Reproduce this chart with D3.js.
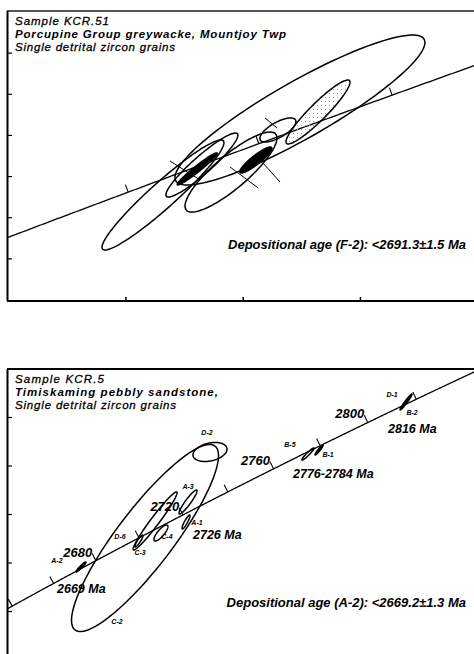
<!DOCTYPE html>
<html>
<head>
<meta charset="utf-8">
<script src="https://cdn.jsdelivr.net/npm/d3@7"></script>
<style>
body { margin: 0; background: #fff; }
svg { display: block; }
text { font-family: "Liberation Sans", Arial, sans-serif; font-style: italic; fill: #000; }
</style>
</head>
<body>
<svg width="474" height="654"></svg>
<script>
// U-Pb decay constants, per Ma
var L238 = 1.55125e-4, L235 = 9.8485e-4;

// ---- panel 1: KCR.51 ----
var p1Title = ['Sample KCR.51', 'Porcupine Group greywacke, Mountjoy Twp', 'Single detrital zircon grains'];
var p1Note = 'Depositional age (F-2): <2691.3\u00b11.5 Ma';
var p1XTicks = [13.0, 13.25, 13.5];
var p1YTicks = [0.509, 0.513, 0.517, 0.521, 0.525, 0.529];
var p1AgeTicks = [2680, 2700, 2720];
// 207Pb/235U, 206Pb/238U, 1 sigma each, rho, fill
var p1X   = [13.371, 13.4095, 13.324, 13.162, 13.152, 13.079, 13.224, 13.277];
var p1Y   = [0.52347, 0.52328, 0.52153, 0.51812, 0.51774, 0.51521, 0.51744, 0.51861];
var p1Sx  = [0.2665, 0.0682, 0.0384, 0.0767, 0.0426, 0.130, 0.098, 0.0341];
var p1Sy  = [0.00729, 0.00311, 0.00117, 0.00311, 0.00156, 0.00535, 0.00389, 0.00126];
var p1Rho = [0.90, 0.93, 0.70, 0.93, 0.97, 0.95, 0.85, 0.90];
var p1Fill = ['none', 'dots', 'none', 'none', 'black', 'none', 'none', 'black'];
// short cross strokes [x1, y1, x2, y2]
var p1Cross = [
  [13.094, 0.51851, 13.158, 0.51667],
  [13.222, 0.51793, 13.282, 0.51589],
  [13.2922, 0.51832, 13.3285, 0.51647],
  [13.2965, 0.52270, 13.3221, 0.52172]
];

// ---- panel 2: KCR.5 ----
var p2Title = ['Sample KCR.5', 'Timiskaming pebbly sandstone,', 'Single detrital zircon grains'];
var p2Note = 'Depositional age (A-2): <2669.2\u00b11.3 Ma';
var p2YTicks = [0.505, 0.515, 0.525, 0.535, 0.545];
var p2AgeTicks = [2640, 2660, 2680, 2700, 2720, 2740, 2760, 2780, 2800, 2820];
var p2AgeLabels = [2680, 2720, 2760, 2800];
var p2Names = ['C-2', 'D-2', 'C-3', 'A-3', 'C-4', 'A-1', 'D-6', 'A-2', 'B-5', 'B-1', 'D-1'];
var p2X   = [13.322, 13.742, 13.387, 13.600, 13.425, 13.587, 13.283, 12.908, 14.375, 14.447, 15.009];
var p2Y   = [0.52015, 0.53789, 0.52366, 0.52758, 0.52119, 0.52345, 0.51954, 0.51418, 0.53747, 0.5383, 0.54820];
var p2Sx  = [0.475, 0.110, 0.142, 0.0582, 0.0452, 0.0259, 0.026, 0.0323, 0.0388, 0.0259, 0.0388];
var p2Sy  = [0.01928, 0.00196, 0.00598, 0.00247, 0.00165, 0.00144, 0.00124, 0.00103, 0.00124, 0.00103, 0.00165];
var p2Rho = [0.88, 0.30, 0.97, 0.93, 0.80, 0.90, 0.90, 0.95, 0.95, 0.95, 0.97];
var p2Fill = ['none', 'none', 'none', 'none', 'none', 'none', 'none', 'black', 'none', 'black', 'black'];
var p2AgeNotes = ['2669 Ma', '2726 Ma', '2776-2784 Ma', '2816 Ma'];

var svg = d3.select('svg');
var defs = svg.append('defs');
var pat = defs.append('pattern').attr('id', 'dots').attr('width', 4).attr('height', 4)
  .attr('patternUnits', 'userSpaceOnUse');
pat.append('rect').attr('x', 1).attr('y', 1).attr('width', 1).attr('height', 1).attr('fill', '#999');

function r7(t) { return Math.exp(L235 * t) - 1; }
function r6(t) { return Math.exp(L238 * t) - 1; }

function panel(o) {
  var g = svg.append('g');
  var x = d3.scaleLinear().domain(o.xDomain).range([7, o.right]);
  var y = d3.scaleLinear().domain(o.yDomain).range([o.bottom, o.top]);

  defs.append('clipPath').attr('id', o.id).append('rect')
    .attr('x', 7).attr('y', o.top).attr('width', 474).attr('height', o.bottom - o.top);
  var plot = g.append('g').attr('clip-path', 'url(#' + o.id + ')');

  // concordia
  var t0 = Math.log(1 + o.xDomain[0]) / L235, t1 = Math.log(1 + o.xDomain[1]) / L235;
  var ts = d3.range(Math.floor(t0) - 2, Math.ceil(t1) + 2, 0.5);
  plot.append('path')
    .attr('d', d3.line().x(function(t) { return x(r7(t)); }).y(function(t) { return y(r6(t)); })(ts))
    .attr('fill', 'none').attr('stroke', '#000').attr('stroke-width', 1.3);

  function tickGeom(t, len) {
    var px = x(r7(t)), py = y(r6(t));
    var dx = x(r7(t + 1)) - px, dy = y(r6(t + 1)) - py;
    var n = Math.sqrt(dx * dx + dy * dy);
    return { x: px, y: py, ex: px + dy / n * len, ey: py - dx / n * len };
  }
  plot.selectAll('.ctick').data(o.ageTicks).enter().append('line')
    .attr('class', 'ctick')
    .each(function(t) {
      var k = tickGeom(t, 8);
      d3.select(this).attr('x1', k.x).attr('y1', k.y).attr('x2', k.ex).attr('y2', k.ey);
    })
    .attr('stroke', '#000').attr('stroke-width', 1.1);

  // ellipses
  var ells = d3.range(o.ex.length);
  var aa = d3.range(0, 2 * Math.PI + 0.01, Math.PI / 60);
  plot.selectAll('.ell').data(ells).enter().append('path')
    .attr('class', 'ell')
    .attr('d', function(i) {
      var s = Math.sqrt(1 - o.rho[i] * o.rho[i]);
      return d3.line()
        .x(function(a) { return x(o.ex[i] + o.sx[i] * Math.cos(a)); })
        .y(function(a) { return y(o.ey[i] + o.sy[i] * (o.rho[i] * Math.cos(a) + s * Math.sin(a))); })(aa) + 'Z';
    })
    .attr('fill', function(i) { return o.fill[i] === 'black' ? '#000' : o.fill[i] === 'dots' ? 'url(#dots)' : 'none'; })
    .attr('stroke', '#000').attr('stroke-width', 1.5);

  if (o.cross) {
    plot.selectAll('.cross').data(o.cross).enter().append('line')
      .attr('x1', function(d) { return x(d[0]); }).attr('y1', function(d) { return y(d[1]); })
      .attr('x2', function(d) { return x(d[2]); }).attr('y2', function(d) { return y(d[3]); })
      .attr('stroke', '#000').attr('stroke-width', 1);
  }

  // frame + inward ticks on the left / bottom
  g.append('line').attr('x1', 7).attr('x2', 474).attr('y1', o.top).attr('y2', o.top)
    .attr('stroke', o.topColor).attr('stroke-width', 2);
  g.append('line').attr('x1', 7.5).attr('x2', 7.5).attr('y1', o.top).attr('y2', Math.min(o.bottom, 654))
    .attr('stroke', '#000').attr('stroke-width', 2);
  if (o.bottom < 654) {
    g.append('line').attr('x1', 7).attr('x2', 474).attr('y1', o.bottom).attr('y2', o.bottom)
      .attr('stroke', '#000').attr('stroke-width', 2);
    g.selectAll('.xt').data(o.xTicks).enter().append('line')
      .attr('x1', function(d) { return x(d); }).attr('x2', function(d) { return x(d); })
      .attr('y1', o.bottom).attr('y2', o.bottom - 4)
      .attr('stroke', '#000').attr('stroke-width', 1.5);
  }
  g.selectAll('.yt').data(o.yTicks).enter().append('line')
    .attr('x1', 7).attr('x2', 12)
    .attr('y1', function(d) { return y(d); }).attr('y2', function(d) { return y(d); })
    .attr('stroke', '#000').attr('stroke-width', 1.2);

  // title block
  g.selectAll('.ttl').data(o.title).enter().append('text')
    .attr('x', 15).attr('y', function(d, i) { return o.top + 14 + i * 12.8; })
    .attr('font-size', 11.5)
    .attr('textLength', function(d, i) { return o.titleW[i]; })
    .attr('lengthAdjust', 'spacing')
    .attr('font-weight', function(d, i) { return i === 1 ? 'bold' : 'normal'; })
    .attr('stroke', '#000').attr('stroke-width', function(d, i) { return i === 1 ? 0 : 0.3; })
    .text(function(d) { return d; });

  g.append('text').attr('x', 466).attr('y', o.noteY).attr('text-anchor', 'end')
    .attr('font-size', 13).attr('font-weight', 'bold').text(o.note);

  return { g: g, x: x, y: y, tickGeom: tickGeom };
}

panel({
  id: 'c1', top: 11, bottom: 301, right: 481, topColor: '#555',
  xDomain: [12.7465, 13.757], yDomain: [0.5049, 0.5331],
  xTicks: p1XTicks, yTicks: p1YTicks, ageTicks: p1AgeTicks,
  ex: p1X, ey: p1Y, sx: p1Sx, sy: p1Sy, rho: p1Rho, fill: p1Fill, cross: p1Cross,
  title: p1Title, titleW: [94, 271, 160], note: p1Note, noteY: 249
});

var p2 = panel({
  id: 'c2', top: 369, bottom: 660, right: 482, topColor: '#000',
  xDomain: [12.43, 15.50], yDomain: [0.495, 0.555],
  xTicks: [], yTicks: p2YTicks, ageTicks: p2AgeTicks,
  ex: p2X, ey: p2Y, sx: p2Sx, sy: p2Sy, rho: p2Rho, fill: p2Fill,
  title: p2Title, titleW: [89, 203, 161], note: p2Note, noteY: 607
});

// concordia age labels
p2.g.selectAll('.alab').data(p2AgeLabels).enter().append('text')
  .attr('x', function(t) { return p2.tickGeom(t, 8).ex; })
  .attr('y', function(t) { return p2.tickGeom(t, 8).ey + 3; })
  .attr('text-anchor', 'end').attr('font-size', 13).attr('font-weight', 'bold')
  .attr('font-style', 'normal')
  .text(function(t) { return t; });

// grain labels, placed beside each ellipse centre
var nameOff = { 'C-2': [-28, 86], 'D-2': [-3, -17], 'C-3': [-15, 34], 'A-3': [0, -13], 'C-4': [6, 6],
  'A-1': [11, 3], 'D-6': [-19, -2], 'A-2': [-24, -4], 'B-5': [-18, -7], 'B-1': [9, 7], 'D-1': [-14, -5] };
p2.g.selectAll('.gl').data(d3.range(p2Names.length)).enter().append('text')
  .attr('x', function(i) { return p2.x(p2X[i]) + nameOff[p2Names[i]][0]; })
  .attr('y', function(i) { return p2.y(p2Y[i]) + nameOff[p2Names[i]][1]; })
  .attr('font-size', 7).attr('font-weight', 'bold').attr('text-anchor', 'middle')
  .text(function(i) { return p2Names[i]; });
p2.g.append('text').attr('x', p2.x(15.009) + 6).attr('y', p2.y(0.5482) + 13)
  .attr('font-size', 7).attr('font-weight', 'bold').attr('text-anchor', 'middle').text('B-2');

// age notes
var noteXY = [[57, 593], [193, 539], [293, 478], [388, 433]];
p2.g.selectAll('.an').data(p2AgeNotes).enter().append('text')
  .attr('x', function(d, i) { return noteXY[i][0]; })
  .attr('y', function(d, i) { return noteXY[i][1]; })
  .attr('font-size', 12.5).attr('font-weight', 'bold')
  .text(function(d) { return d; });
</script>
</body>
</html>
